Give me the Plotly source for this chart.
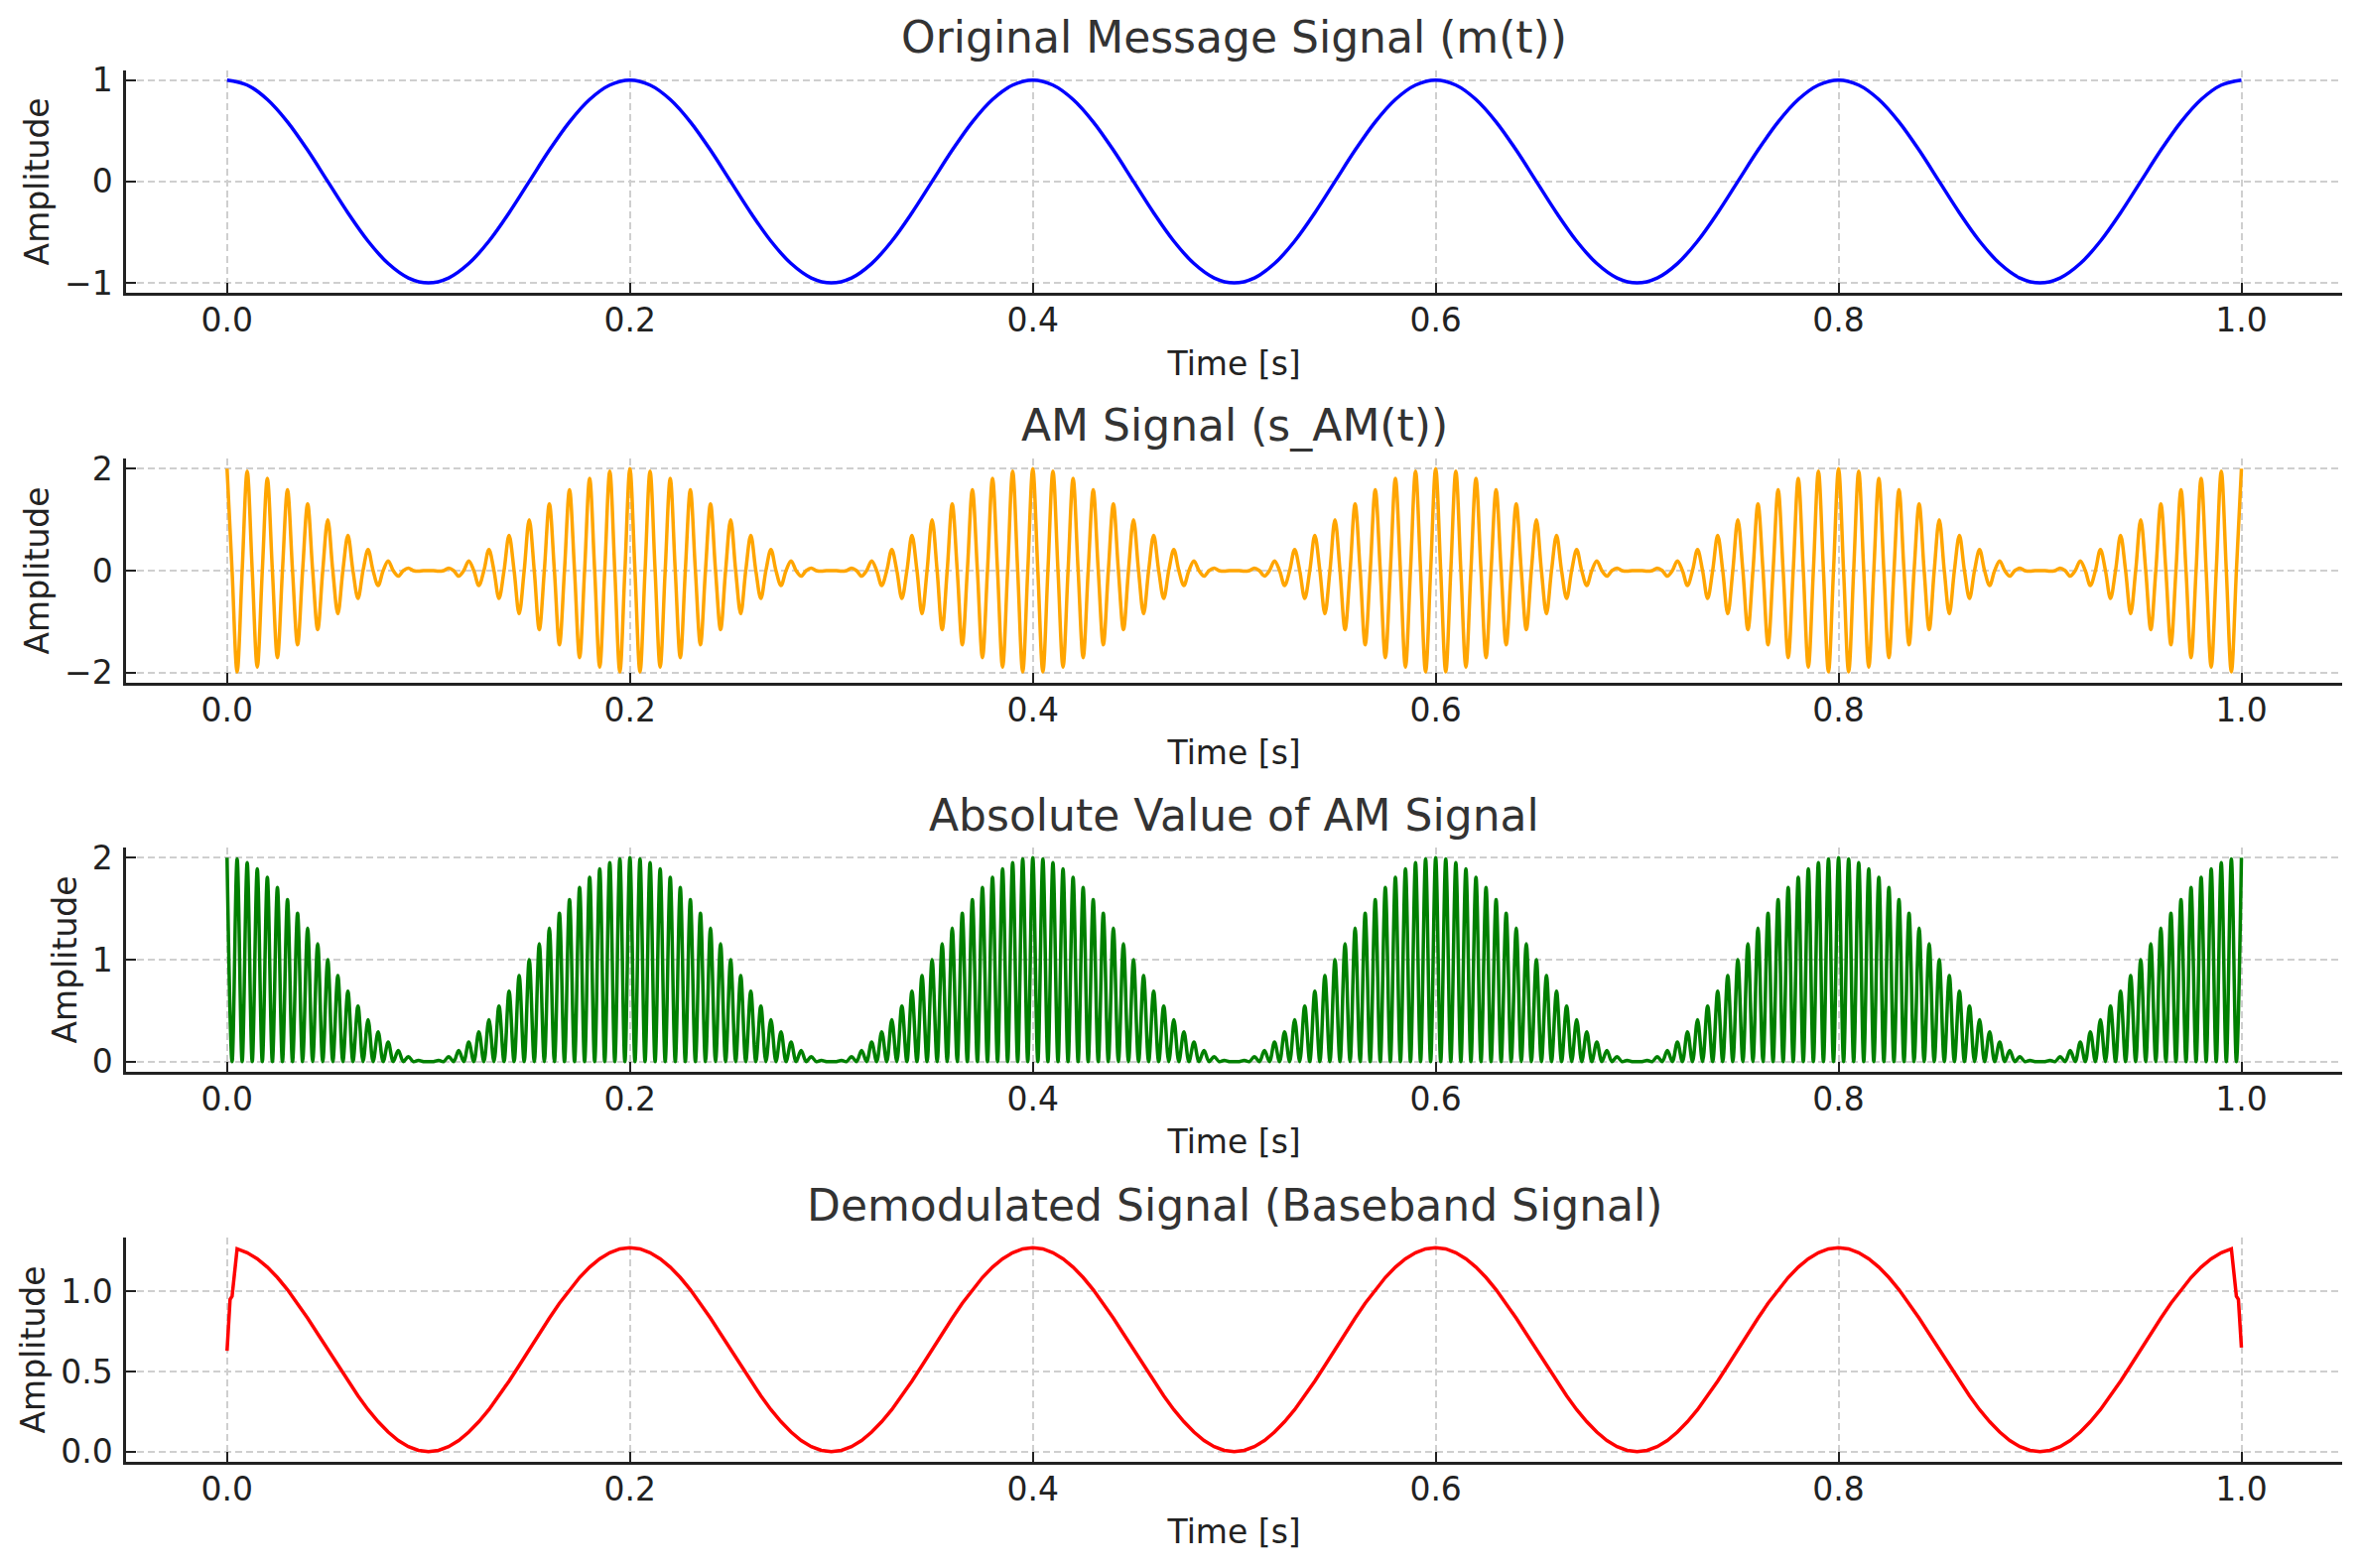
import plotly.graph_objects as go

# ---------------- data ----------------
# time axis ticks
x_tick_vals = [0.0, 0.2, 0.4, 0.6, 0.8, 1.0]
x_tick_text = ["0.0", "0.2", "0.4", "0.6", "0.8", "1.0"]

# message signal m(t), sampled every 0.01 s from 0 to 1 s
msg_step = 0.01
msg_values = [
    1.0, 0.951, 0.809, 0.588, 0.309, 0.0, -0.309, -0.588, -0.809, -0.951,
    -1.0, -0.951, -0.809, -0.588, -0.309, 0.0, 0.309, 0.588, 0.809, 0.951,
    1.0, 0.951, 0.809, 0.588, 0.309, 0.0, -0.309, -0.588, -0.809, -0.951,
    -1.0, -0.951, -0.809, -0.588, -0.309, 0.0, 0.309, 0.588, 0.809, 0.951,
    1.0, 0.951, 0.809, 0.588, 0.309, 0.0, -0.309, -0.588, -0.809, -0.951,
    -1.0, -0.951, -0.809, -0.588, -0.309, 0.0, 0.309, 0.588, 0.809, 0.951,
    1.0, 0.951, 0.809, 0.588, 0.309, 0.0, -0.309, -0.588, -0.809, -0.951,
    -1.0, -0.951, -0.809, -0.588, -0.309, 0.0, 0.309, 0.588, 0.809, 0.951,
    1.0, 0.951, 0.809, 0.588, 0.309, 0.0, -0.309, -0.588, -0.809, -0.951,
    -1.0, -0.951, -0.809, -0.588, -0.309, 0.0, 0.309, 0.588, 0.809, 0.951,
    1.0,
]

# AM signal: signed peak of every carrier half-cycle (every 0.005 s);
# the signal passes through zero half way between consecutive peaks
am_peak_step = 0.005
am_zero_level = 0.0
am_peaks = [
    2.0, -1.988, 1.951, -1.891, 1.809, -1.707, 1.588, -1.454, 1.309, -1.156,
    1.0, -0.844, 0.691, -0.546, 0.412, -0.293, 0.191, -0.109, 0.049, -0.012,
    0.0, -0.012, 0.049, -0.109, 0.191, -0.293, 0.412, -0.546, 0.691, -0.844,
    1.0, -1.156, 1.309, -1.454, 1.588, -1.707, 1.809, -1.891, 1.951, -1.988,
    2.0, -1.988, 1.951, -1.891, 1.809, -1.707, 1.588, -1.454, 1.309, -1.156,
    1.0, -0.844, 0.691, -0.546, 0.412, -0.293, 0.191, -0.109, 0.049, -0.012,
    0.0, -0.012, 0.049, -0.109, 0.191, -0.293, 0.412, -0.546, 0.691, -0.844,
    1.0, -1.156, 1.309, -1.454, 1.588, -1.707, 1.809, -1.891, 1.951, -1.988,
    2.0, -1.988, 1.951, -1.891, 1.809, -1.707, 1.588, -1.454, 1.309, -1.156,
    1.0, -0.844, 0.691, -0.546, 0.412, -0.293, 0.191, -0.109, 0.049, -0.012,
    0.0, -0.012, 0.049, -0.109, 0.191, -0.293, 0.412, -0.546, 0.691, -0.844,
    1.0, -1.156, 1.309, -1.454, 1.588, -1.707, 1.809, -1.891, 1.951, -1.988,
    2.0, -1.988, 1.951, -1.891, 1.809, -1.707, 1.588, -1.454, 1.309, -1.156,
    1.0, -0.844, 0.691, -0.546, 0.412, -0.293, 0.191, -0.109, 0.049, -0.012,
    0.0, -0.012, 0.049, -0.109, 0.191, -0.293, 0.412, -0.546, 0.691, -0.844,
    1.0, -1.156, 1.309, -1.454, 1.588, -1.707, 1.809, -1.891, 1.951, -1.988,
    2.0, -1.988, 1.951, -1.891, 1.809, -1.707, 1.588, -1.454, 1.309, -1.156,
    1.0, -0.844, 0.691, -0.546, 0.412, -0.293, 0.191, -0.109, 0.049, -0.012,
    0.0, -0.012, 0.049, -0.109, 0.191, -0.293, 0.412, -0.546, 0.691, -0.844,
    1.0, -1.156, 1.309, -1.454, 1.588, -1.707, 1.809, -1.891, 1.951, -1.988,
    2.0,
]

# demodulated (baseband) signal
demod_head_t = [0.0, 0.0015, 0.0025]
demod_head_v = [0.63, 0.95, 0.97]
demod_step = 0.005  # interior samples from 0.005 s to 0.995 s
demod_main_v = [
    1.266, 1.242, 1.204, 1.152, 1.087, 1.011, 0.926, 0.833, 0.736, 0.637,
    0.537, 0.440, 0.348, 0.262, 0.187, 0.122, 0.069, 0.031, 0.008, 0.0,
    0.008, 0.031, 0.069, 0.122, 0.187, 0.262, 0.348, 0.440, 0.537, 0.637,
    0.736, 0.833, 0.926, 1.011, 1.087, 1.152, 1.204, 1.242, 1.266,
    1.273, 1.266, 1.242, 1.204, 1.152, 1.087, 1.011, 0.926, 0.833, 0.736, 0.637,
    0.537, 0.440, 0.348, 0.262, 0.187, 0.122, 0.069, 0.031, 0.008, 0.0,
    0.008, 0.031, 0.069, 0.122, 0.187, 0.262, 0.348, 0.440, 0.537, 0.637,
    0.736, 0.833, 0.926, 1.011, 1.087, 1.152, 1.204, 1.242, 1.266,
    1.273, 1.266, 1.242, 1.204, 1.152, 1.087, 1.011, 0.926, 0.833, 0.736, 0.637,
    0.537, 0.440, 0.348, 0.262, 0.187, 0.122, 0.069, 0.031, 0.008, 0.0,
    0.008, 0.031, 0.069, 0.122, 0.187, 0.262, 0.348, 0.440, 0.537, 0.637,
    0.736, 0.833, 0.926, 1.011, 1.087, 1.152, 1.204, 1.242, 1.266,
    1.273, 1.266, 1.242, 1.204, 1.152, 1.087, 1.011, 0.926, 0.833, 0.736, 0.637,
    0.537, 0.440, 0.348, 0.262, 0.187, 0.122, 0.069, 0.031, 0.008, 0.0,
    0.008, 0.031, 0.069, 0.122, 0.187, 0.262, 0.348, 0.440, 0.537, 0.637,
    0.736, 0.833, 0.926, 1.011, 1.087, 1.152, 1.204, 1.242, 1.266,
    1.273, 1.266, 1.242, 1.204, 1.152, 1.087, 1.011, 0.926, 0.833, 0.736, 0.637,
    0.537, 0.440, 0.348, 0.262, 0.187, 0.122, 0.069, 0.031, 0.008, 0.0,
    0.008, 0.031, 0.069, 0.122, 0.187, 0.262, 0.348, 0.440, 0.537, 0.637,
    0.736, 0.833, 0.926, 1.011, 1.087, 1.152, 1.204, 1.242, 1.266,
]
demod_tail_t = [0.9975, 0.9985, 1.0]
demod_tail_v = [0.97, 0.95, 0.65]

titles = [
    "Original Message Signal (m(t))",
    "AM Signal (s_AM(t))",
    "Absolute Value of AM Signal",
    "Demodulated Signal (Baseband Signal)",
]
y_tick_vals = [[-1, 0, 1], [-2, 0, 2], [0, 1, 2], [0.0, 0.5, 1.0]]
y_tick_text = [["\u22121", "0", "1"], ["\u22122", "0", "2"], ["0", "1", "2"], ["0.0", "0.5", "1.0"]]
y_ranges = [[-1.1, 1.1], [-2.2, 2.2], [-0.1, 2.1], [-0.0637, 1.3366]]
colors = ["#0000ff", "#ffa500", "#008000", "#ff0000"]

# ---------------- build traces ----------------
am_y = []
for p in am_peaks:
    am_y.extend([p, am_zero_level])
am_y = am_y[:-1]
abs_y = [abs(v) for v in am_y]

demod_t = demod_head_t + [round(demod_step * (i + 1), 4) for i in range(len(demod_main_v))] + demod_tail_t
demod_v = demod_head_v + demod_main_v + demod_tail_v

fig = go.Figure()
fig.add_trace(go.Scatter(x0=0, dx=msg_step, y=msg_values, mode="lines", line=dict(color=colors[0], width=3.5, shape="spline"), xaxis="x", yaxis="y"))
fig.add_trace(go.Scatter(x0=0, dx=am_peak_step / 2, y=am_y, mode="lines", line=dict(color=colors[1], width=3.5, shape="spline"), xaxis="x2", yaxis="y2"))
fig.add_trace(go.Scatter(x0=0, dx=am_peak_step / 2, y=abs_y, mode="lines", line=dict(color=colors[2], width=3.5, shape="spline"), xaxis="x3", yaxis="y3"))
fig.add_trace(go.Scatter(x=demod_t, y=demod_v, mode="lines", line=dict(color=colors[3], width=3.5), xaxis="x4", yaxis="y4"))

# ---------------- layout ----------------
W, H = 2379, 1580
x_dom = [127.3 / W, 2360 / W]
rows_px = [(70.5, 295.3), (462, 688), (854, 1080), (1247, 1473)]
ink = "#222222"
grid = "#cfcfcf"
fam = "DejaVu Sans"

layout = dict(
    width=W, height=H, autosize=False,
    margin=dict(l=0, r=0, t=0, b=0),
    paper_bgcolor="white", plot_bgcolor="white",
    showlegend=False,
    font=dict(family=fam, color=ink),
    annotations=[],
)
for i in range(4):
    sfx = "" if i == 0 else str(i + 1)
    top, bot = rows_px[i]
    layout["xaxis" + sfx] = dict(
        domain=x_dom, anchor="y" + sfx, range=[-0.05, 1.05], automargin=False,
        tickvals=x_tick_vals, ticktext=x_tick_text,
        ticks="inside", ticklen=10, tickwidth=2, tickcolor=ink,
        showline=True, linecolor=ink, linewidth=3, mirror=False,
        showgrid=True, gridcolor=grid, gridwidth=2, griddash="7px,4px",
        zeroline=False, ticklabelstandoff=-4,
        tickfont=dict(size=33, color=ink, family=fam),
        title=dict(text="Time [s]", font=dict(size=33, color=ink, family=fam), standoff=14),
    )
    layout["yaxis" + sfx] = dict(
        domain=[1 - bot / H, 1 - top / H], anchor="x" + sfx, range=y_ranges[i], automargin=False,
        tickvals=y_tick_vals[i], ticktext=y_tick_text[i],
        ticks="inside", ticklen=10, tickwidth=2, tickcolor=ink,
        showline=True, linecolor=ink, linewidth=3, mirror=False,
        showgrid=True, gridcolor=grid, gridwidth=2, griddash="7px,4px",
        zeroline=False, ticklabelstandoff=4,
        tickfont=dict(size=33, color=ink, family=fam),
        title=dict(text="Amplitude", font=dict(size=33, color=ink, family=fam), standoff=6),
    )
    layout["annotations"].append(dict(
        text=titles[i], xref="x" + sfx + " domain", yref="y" + sfx + " domain",
        x=0.5, y=1, xanchor="center", yanchor="middle", yshift=33, showarrow=False,
        font=dict(size=44, color="#333333", family=fam),
    ))

fig.update_layout(**layout)
fig.write_html("out.html", config={"displayModeBar": False},
               post_script="document.body.style.margin='0';")
